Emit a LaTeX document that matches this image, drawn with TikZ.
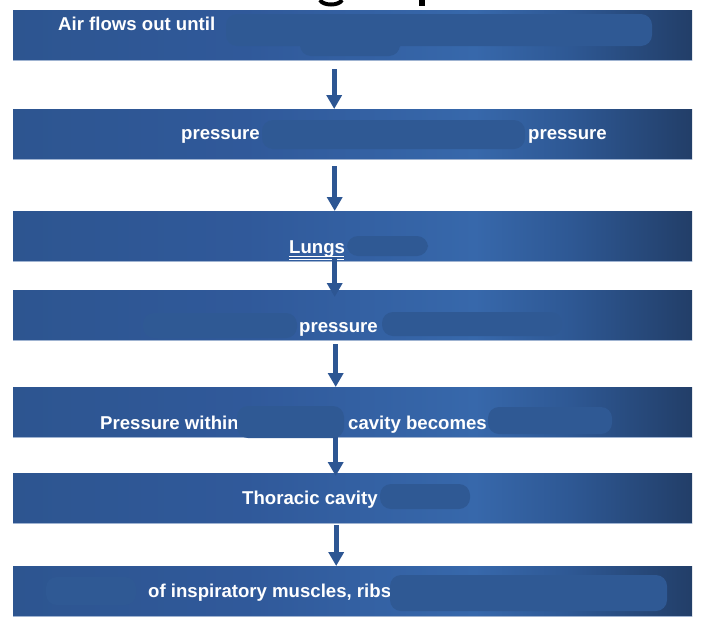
\documentclass[tikz,border=0pt]{standalone}
\usepackage{fontspec}
\setmainfont{Liberation Sans}
\usetikzlibrary{arrows.meta,calc}
\definecolor{barA}{HTML}{2D5590}
\definecolor{barB}{HTML}{30599A}
\definecolor{barC}{HTML}{3768AB}
\definecolor{barD}{HTML}{2E5894}
\definecolor{barE}{HTML}{223E68}
\definecolor{blobc}{HTML}{2F5994}
\definecolor{edgec}{HTML}{9FB3D1}
\definecolor{arrowc}{HTML}{2D5693}
\pgfdeclarehorizontalshading{barshade}{100bp}{color(0bp)=(barA); color(25bp)=(barA); color(42bp)=(barB); color(59bp)=(barC); color(66bp)=(barD); color(75bp)=(barE); color(100bp)=(barE)}
\begin{document}
\begin{tikzpicture}[x=1pt,y=-1pt,
  barbox/.style={shading=barshade, draw=none, minimum width=679pt, minimum height=50pt, inner sep=0pt, anchor=north west},
  txt/.style={text=white, font=\fontsize{18.6}{21}\selectfont\bfseries, inner sep=0pt, anchor=base west},
  blob/.style={fill=blobc, rounded corners=11pt},
  flow/.style={draw=arrowc, line width=5pt, -{Triangle[width=15pt,length=14pt]}}]
\useasboundingbox (0,0) rectangle (706,624);
% title fragments
\draw[line width=4pt] (320,0) .. controls (323,6) and (339,6) .. (342,0);
\fill (419,0) rectangle (425,6);
% bars
\node[barbox] (b1) at (13,10) {};
\node[barbox] (b2) at (13,109) {};
\node[barbox] (b3) at (13,211) {};
\node[barbox] (b4) at (13,290) {};
\node[barbox] (b5) at (13,387) {};
\node[barbox] (b6) at (13,473) {};
\node[barbox] (b7) at (13,566) {};
\foreach \b in {b1,b2,b3,b4,b5,b6,b7}
  \draw[edgec, line width=1.2pt] (\b.south west) -- (\b.south east);
% texts
\node[txt] (t1) at (58,30) {Air flows out until};
\node[txt] (t2a) at (181,139) {pressure};
\node[txt] (t2b) at (528,139) {pressure};
\node[txt] (t3) at (289,253) {Lungs};
\draw[white, line width=1pt] (t3.base west) ++(0,3) -- ++(55,0);
\draw[white, line width=1pt] (t3.base west) ++(0,6) -- ++(55,0);
\node[txt] (t4) at (299,332) {pressure};
\node[txt] (t5a) at (100,429) {Pressure within};
\node[txt] (t5b) at (348,429) {cavity becomes};
\node[txt] (t6) at (242,504) {Thoracic cavity};
\node[txt] (t7) at (148,597) {of inspiratory muscles, ribs};
% redaction blobs
\fill[blob] (226,14) rectangle (652,46);
\fill[blob] (300,36) rectangle (400,56);
\fill[blob] (262,120) rectangle (525,149);
\fill[blob] (347,236) rectangle (428,256);
\fill[blob] (143,313) rectangle (297,338);
\fill[blob] (382,312) rectangle (562,336);
\fill[blob] (237,406) rectangle (344,438);
\fill[blob] (488,407) rectangle (612,434);
\fill[blob] (380,484) rectangle (470,509);
\fill[blob] (46,577) rectangle (136,605);
\fill[blob] (390,575) rectangle (667,611);
% arrows
\draw[flow] ($(b1.south)+(-18.5,9)$) -- ($(b2.north)+(-18.5,0)$);
\draw[flow] ($(b2.south)+(-18,7)$) -- ($(b3.north)+(-18,0)$);
\draw[flow] ($(b3.south)+(-18,-4)$) -- ($(b4.north)+(-18,7)$);
\draw[flow] ($(b4.south)+(-17,4)$) -- ($(b5.north)+(-17,0)$);
\draw[flow] ($(b5.south)+(-17,0)$) -- ($(b6.north)+(-17,3)$);
\draw[flow] ($(b6.south)+(-16.5,2)$) -- ($(b7.north)+(-16.5,0)$);
\end{tikzpicture}
\end{document}
